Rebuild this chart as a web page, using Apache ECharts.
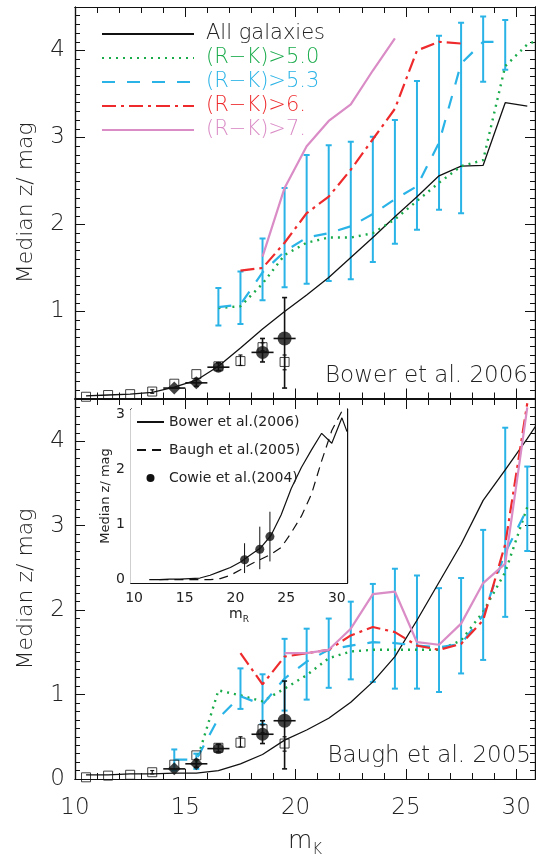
<!DOCTYPE html>
<html><head><meta charset="utf-8">
<script src="https://cdn.jsdelivr.net/npm/echarts@6/dist/echarts.min.js"></script>
<style>html,body{margin:0;padding:0;background:#fff}#c{width:536px;height:860px}</style>
</head><body><div id="c"></div>
<script>
// ---------------- DATA ----------------
const magBins = [10.5,11.5,12.5,13.5,14.5,15.5,16.5,17.5,18.5,19.5,20.5,21.5,22.5,23.5,24.5,25.5,26.5,27.5,28.5,29.5,30.5,31.5];
const N = null;
// Top panel: Bower et al. 2006
const bowerAll  = [0.03,0.04,0.05,0.07,0.13,0.21,0.37,0.58,0.80,1.00,1.19,1.39,1.62,1.85,2.09,2.32,2.56,2.67,2.68,3.40,3.36,N];
const bowerRK50 = [N,N,N,N,N,N,1.04,1.06,1.32,1.65,1.79,1.85,1.85,1.90,2.06,2.27,2.48,2.67,2.74,3.82,4.07,4.17];
const bowerRK53 = [N,N,N,N,N,N,1.05,1.08,1.45,1.69,1.85,1.90,1.98,2.12,2.29,2.44,2.94,3.85,4.10,4.10,N,N];
const bowerRK53Lo = [N,N,N,N,N,N,0.84,0.855,1.13,1.28,1.32,1.35,1.37,1.57,1.78,1.94,2.17,2.13,3.64,3.78,N,N];
const bowerRK53Hi = [N,N,N,N,N,N,1.27,1.46,1.84,2.42,2.80,2.91,2.95,3.01,3.20,3.65,4.17,4.32,4.39,4.35,N,N];
const bowerRK6  = [N,N,N,N,N,N,N,1.47,1.50,1.79,2.13,2.32,2.63,2.98,3.33,4.00,4.10,4.08,N,N,N,N];
const bowerRK7  = [N,N,N,N,N,N,N,N,1.63,2.42,2.90,3.19,3.38,3.77,4.14,N,N,N,N,N,N,N];
// Bottom panel: Baugh et al. 2005
const baughAll  = [0.05,0.05,0.06,0.06,0.07,0.07,0.10,0.18,0.29,0.46,0.58,0.72,0.91,1.15,1.45,1.88,2.33,2.78,3.30,3.66,4.03,4.42];
const baughRK50 = [N,N,N,N,N,0.20,1.05,0.99,0.92,1.07,1.23,1.43,1.51,1.53,1.53,1.53,1.53,1.64,1.98,2.45,3.22,N];
const baughRK53 = [N,N,N,N,0.23,0.23,0.72,0.98,0.88,1.19,1.39,1.53,1.58,1.62,1.61,1.58,1.56,1.60,1.94,2.68,3.20,N];
const baughRK53Lo = [N,N,N,N,0.10,0.12,N,0.83,0.65,0.81,0.94,1.08,1.18,1.15,1.07,1.07,1.03,1.25,1.41,1.92,2.70,N];
const baughRK53Hi = [N,N,N,N,0.35,0.30,N,1.31,1.24,1.66,1.78,1.90,2.10,2.31,2.49,2.41,2.26,2.38,2.95,4.16,3.70,N];
const baughRK6  = [N,N,N,N,N,N,N,1.49,1.12,1.45,1.49,1.53,1.70,1.80,1.74,1.58,1.53,1.60,1.88,2.78,4.45,N];
const baughRK7  = [N,N,N,N,N,N,N,N,N,1.49,1.49,1.53,1.78,2.19,2.22,1.62,1.59,1.84,2.32,2.55,4.40,N];
// Observations (open squares)
const obsX  = [10.5,11.5,12.5,13.5,14.5,15.5,16.5,17.5,18.5,19.5];
const obsZ  = [0.02,0.04,0.05,0.08,0.17,0.28,0.37,0.43,0.59,0.42];
const obsLo = [0.02,0.04,0.05,0.06,0.17,0.28,0.37,0.38,0.55,0.33];
const obsHi = [0.02,0.04,0.05,0.10,0.17,0.28,0.37,0.50,0.64,0.50];
// Cowie et al. (filled symbols) in K
const cowieKX   = [14.5,15.5,16.5,18.5,19.5];
const cowieKZ   = [0.12,0.18,0.36,0.53,0.69];
const cowieKLo  = [0.12,0.14,0.32,0.42,0.12];
const cowieKHi  = [0.12,0.23,0.41,0.69,1.16];
const cowieKXerr= [0.5,0.5,0.5,0.5,0.5];
// Inset (m_R)
const insetX     = [11.5,12.5,13.5,14.5,15.5,16.5,17.5,18.5,19.5,20.5,21.5,22.5,23.5,24.5,25.5,26.5,27.5,28.5,29.5,30.5,31.0];
const insetBower = [0.00,0.00,0.01,0.01,0.02,0.03,0.08,0.15,0.22,0.32,0.45,0.58,0.80,1.17,1.65,2.03,2.35,2.65,2.47,2.93,2.68];
const insetBaugh = [N,0.00,0.00,0.00,0.00,0.00,0.00,0.02,0.08,0.18,0.28,0.37,0.46,0.58,0.85,1.15,1.55,2.15,2.70,3.05,N];
const cowieRX  = [20.9,22.4,23.4];
const cowieRZ  = [0.36,0.55,0.78];
const cowieRLo = [0.12,0.19,0.33];
const cowieRHi = [0.66,0.96,1.23];
// Tick labels
const mainXLabels = [10,15,20,25,30];
const topYLabels = [1,2,3,4];
const botYLabels = [0,1,2,3,4];
const insetXLabels = [10,15,20,25,30];
const insetYLabels = [0,1,2,3];
const legendNames = ['All galaxies','(R\u2212K)>5.0','(R\u2212K)>5.3','(R\u2212K)>6.','(R\u2212K)>7.'];
const insetNames = ['Bower et al.(2006)','Baugh et al.(2005)','Cowie et al.(2004)'];

// ---------------- STYLE ----------------
const FF = "'DejaVu Sans', sans-serif";
const FW = 200;
const C = {black:'#111', green:'#1aab4b', cyan:'#2ab3e6', red:'#ee2a2c', pink:'#da8cc6'};
function range(a, b, s){ const r=[]; for(let v=a; v<=b+1e-9; v+=s) r.push(Math.round(v*100)/100); return r; }

function pairs(xs, ys){ const out=[]; xs.forEach((x,i)=>{ if(ys[i]!=null) out.push([x, ys[i]]); }); return out; }
function ebData(xs, lo, hi){ const out=[]; xs.forEach((x,i)=>{ if(lo[i]!=null && hi[i]!=null && hi[i]>lo[i]) out.push([x, lo[i], hi[i]]); }); return out; }

function mkAxis(grid, pos, min, max, ticks, len, extra){
  return Object.assign({
    type:'value', gridIndex:grid, position:pos, min:min, max:max,
    axisLine:{show:true, onZero:false, lineStyle:{color:'#111', width:1.2}},
    axisTick:{show:true, inside:true, length:len, customValues:ticks, lineStyle:{color:'#111', width:1}},
    axisLabel:{show:false},
    splitLine:{show:false}, minorTick:{show:false}, minorSplitLine:{show:false}
  }, extra||{});
}

const XMIN=10, XMAX=30.85;
const xAxes=[], yAxes=[];
function addPanelAxes(grid, xmin, xmax, ymin, ymax, xMaj, xMin, yMaj, yMin, lens, xLab, yLab){
  const xi = xAxes.length, yi = yAxes.length;
  xAxes.push(mkAxis(grid,'bottom',xmin,xmax,xMaj,lens[0], xLab||{}));
  xAxes.push(mkAxis(grid,'top',xmin,xmax,xMaj,lens[0]));
  xAxes.push(mkAxis(grid,'bottom',xmin,xmax,xMin,lens[1]));
  xAxes.push(mkAxis(grid,'top',xmin,xmax,xMin,lens[1]));
  yAxes.push(mkAxis(grid,'left',ymin,ymax,yMaj,lens[2], yLab||{}));
  yAxes.push(mkAxis(grid,'right',ymin,ymax,yMaj,lens[2]));
  yAxes.push(mkAxis(grid,'left',ymin,ymax,yMin,lens[3]));
  yAxes.push(mkAxis(grid,'right',ymin,ymax,yMin,lens[3]));
  return [xi, yi];
}
const mainLab = {fontSize:23, fontFamily:FF, fontWeight:FW, color:'#222'};
const yName = {name:'Median z/ mag', nameLocation:'middle', nameRotate:90, nameGap:38,
  nameTextStyle:{fontSize:22, fontFamily:FF, fontWeight:FW, color:'#222'}};

const topAx = addPanelAxes(0, XMIN, XMAX, 0, 4.5, [10,15,20,25,30], range(10,30,1), [0,1,2,3,4], range(0,4.5,0.1), [10,6,10,5],
  null,
  Object.assign({axisLabel:Object.assign({show:true, customValues:topYLabels, margin:10}, mainLab)}, yName));
const botAx = addPanelAxes(1, XMIN, XMAX, 0, 4.5, [10,15,20,25,30], range(10,30,1), [0,1,2,3,4], range(0,4.5,0.1), [10,6,10,5],
  {axisLabel:Object.assign({show:true, customValues:mainXLabels, margin:18}, mainLab),
   name:'{m|m}{s|K}', nameLocation:'middle', nameGap:46,
   nameTextStyle:{rich:{m:{fontSize:25, fontFamily:FF, fontWeight:FW, color:'#222'}, s:{fontSize:15, fontFamily:FF, fontWeight:FW, color:'#222', padding:[18,0,0,0]}}}},
  Object.assign({axisLabel:Object.assign({show:true, customValues:botYLabels, margin:10}, mainLab)}, yName));
const insLab = {fontSize:14, fontFamily:FF, color:'#222'};
const insAx = addPanelAxes(2, 9.7, 31, -0.06, 3.09, [10,15,20,25,30], range(10,31,1), [0,1,2,3], range(0,3,0.1), [6,3,6,3],
  {axisLabel:Object.assign({show:true, customValues:insetXLabels, margin:8}, insLab),
   name:'{m|m}{s|R}', nameLocation:'middle', nameGap:22,
   nameTextStyle:{rich:{m:{fontSize:14, fontFamily:FF, color:'#222'}, s:{fontSize:9, fontFamily:FF, color:'#222', padding:[10,0,0,0]}}}},
  {axisLabel:Object.assign({show:true, customValues:insetYLabels, margin:6}, insLab),
   name:'Median z/ mag', nameLocation:'middle', nameRotate:90, nameGap:18,
   nameTextStyle:{fontSize:13, fontFamily:FF, color:'#222'}});

function lineSeries(name, ax, xs, ys, color, width, type, z){
  return {type:'line', name:name, xAxisIndex:ax[0], yAxisIndex:ax[1], data:pairs(xs, ys),
    symbol:'none', showSymbol:false, clip:true, z:z||3,
    lineStyle:{color:color, width:width, type:type||'solid', cap:'butt'}, itemStyle:{color:color}};
}
function ebRender(color, lw, cap){
  return function(params, api){
    const x=api.value(0), lo=api.value(1), hi=api.value(2);
    const a=api.coord([x,lo]), b=api.coord([x,hi]);
    const st={stroke:color, lineWidth:lw};
    return {type:'group', children:[
      {type:'line', shape:{x1:a[0],y1:a[1],x2:b[0],y2:b[1]}, style:st},
      {type:'line', shape:{x1:a[0]-cap,y1:a[1],x2:a[0]+cap,y2:a[1]}, style:st},
      {type:'line', shape:{x1:b[0]-cap,y1:b[1],x2:b[0]+cap,y2:b[1]}, style:st}
    ]};
  };
}
function hbarRender(color, lw){
  return function(params, api){
    const x=api.value(0), y=api.value(1), e=api.value(2);
    const a=api.coord([x-e,y]), b=api.coord([x+e,y]);
    return {type:'line', shape:{x1:a[0],y1:a[1],x2:b[0],y2:b[1]}, style:{stroke:color, lineWidth:lw}};
  };
}
const dotted=[2,5], dashed=[13,12], dashdot=[14,5,3,5];

function panelSeries(ax, all, r50, r53, r53lo, r53hi, r6, r7){
  const s=[];
  s.push({type:'custom', name:'err53', xAxisIndex:ax[0], yAxisIndex:ax[1], data:ebData(magBins, r53lo, r53hi), renderItem:ebRender(C.cyan,2,3), z:2, clip:true});
  s.push(lineSeries(legendNames[0], ax, magBins, all, C.black, 1.3));
  s.push(lineSeries(legendNames[1], ax, magBins, r50, C.green, 2.4, dotted));
  s.push(lineSeries(legendNames[2], ax, magBins, r53, C.cyan, 2.2, dashed));
  s.push(lineSeries(legendNames[3], ax, magBins, r6, C.red, 2.2, dashdot));
  s.push(lineSeries(legendNames[4], ax, magBins, r7, C.pink, 2.2));
  s.push({type:'custom', name:'obsErr', xAxisIndex:ax[0], yAxisIndex:ax[1], data:ebData(obsX, obsLo, obsHi), renderItem:ebRender('#111',1.2,2), z:5});
  s.push({type:'scatter', name:'obs', xAxisIndex:ax[0], yAxisIndex:ax[1], data:pairs(obsX, obsZ), symbol:'rect', symbolSize:9,
    itemStyle:{color:'rgba(0,0,0,0)', borderColor:'#111', borderWidth:1}, z:5});
  s.push({type:'custom', name:'cowErr', xAxisIndex:ax[0], yAxisIndex:ax[1], data:ebData(cowieKX, cowieKLo, cowieKHi), renderItem:ebRender('#111',1.6,2.5), z:6});
  s.push({type:'custom', name:'cowHErr', xAxisIndex:ax[0], yAxisIndex:ax[1], data:cowieKX.map((x,i)=>[x, cowieKZ[i], cowieKXerr[i]]), renderItem:hbarRender('#111',1.6), z:6});
  const shapes=['diamond','diamond','circle','circle','circle'], sizes=[13,13,11,13,14];
  s.push({type:'scatter', name:'cowie', xAxisIndex:ax[0], yAxisIndex:ax[1],
    data:cowieKX.map((x,i)=>({value:[x, cowieKZ[i]], symbol:shapes[i], symbolSize:sizes[i]})), itemStyle:{color:'#111'}, z:7});
  return s;
}

const series = [].concat(
  panelSeries(topAx, bowerAll, bowerRK50, bowerRK53, bowerRK53Lo, bowerRK53Hi, bowerRK6, bowerRK7),
  panelSeries(botAx, baughAll, baughRK50, baughRK53, baughRK53Lo, baughRK53Hi, baughRK6, baughRK7),
  [
    lineSeries(insetNames[0], insAx, insetX, insetBower, '#111', 1.2, 'solid', 10),
    lineSeries(insetNames[1], insAx, insetX, insetBaugh, '#111', 1.2, [9,6], 10),
    {type:'custom', name:'cowRErr', xAxisIndex:insAx[0], yAxisIndex:insAx[1], data:ebData(cowieRX, cowieRLo, cowieRHi), renderItem:ebRender('#111',1,0), z:10},
    {type:'scatter', name:insetNames[2], xAxisIndex:insAx[0], yAxisIndex:insAx[1], data:pairs(cowieRX, cowieRZ), symbol:'circle', symbolSize:9, itemStyle:{color:'#111'}, z:11}
  ]
);

const legColors = ['#222', C.green, C.cyan, C.red, C.pink];
const option = {
  animation:false,
  backgroundColor:'#fff',
  grid:[
    {left:75, top:7, width:460, height:391.5},
    {left:75, top:399, width:460, height:380},
    {left:131, top:409, width:216, height:174, show:true, backgroundColor:'#fff', borderWidth:0, z:8}
  ],
  xAxis: xAxes, yAxis: yAxes,
  legend:[
    {orient:'vertical', left:101, top:22, padding:0, itemWidth:92, itemHeight:14, itemGap:0, selectedMode:false,
     itemStyle:{opacity:0},
     data:legendNames.map((n,i)=>({name:n, textStyle:{color:legColors[i]}})),
     textStyle:{fontSize:21, fontFamily:FF, fontWeight:FW, lineHeight:24, padding:[0,0,0,7]}},
    {orient:'vertical', left:136, top:408, padding:0, itemWidth:27, itemHeight:8, itemGap:0, selectedMode:false, z:12,
     itemStyle:{opacity:0},
     data:insetNames.map((n,i)=>(i===2 ? {name:n, itemStyle:{opacity:1}} : {name:n})),
     textStyle:{fontSize:14, fontFamily:FF, color:'#222', lineHeight:28}}
  ],
  graphic:[
    {type:'text', right:8, top:365, style:{text:'Bower et al. 2006', font:'200 23px '+FF, fill:'#222'}},
    {type:'text', right:5, top:745, style:{text:'Baugh et al. 2005', font:'200 23px '+FF, fill:'#222'}}
  ],
  series: series
};
const chart = echarts.init(document.getElementById('c'), null, {renderer:'canvas'});
chart.setOption(option);
</script>
</body></html>
